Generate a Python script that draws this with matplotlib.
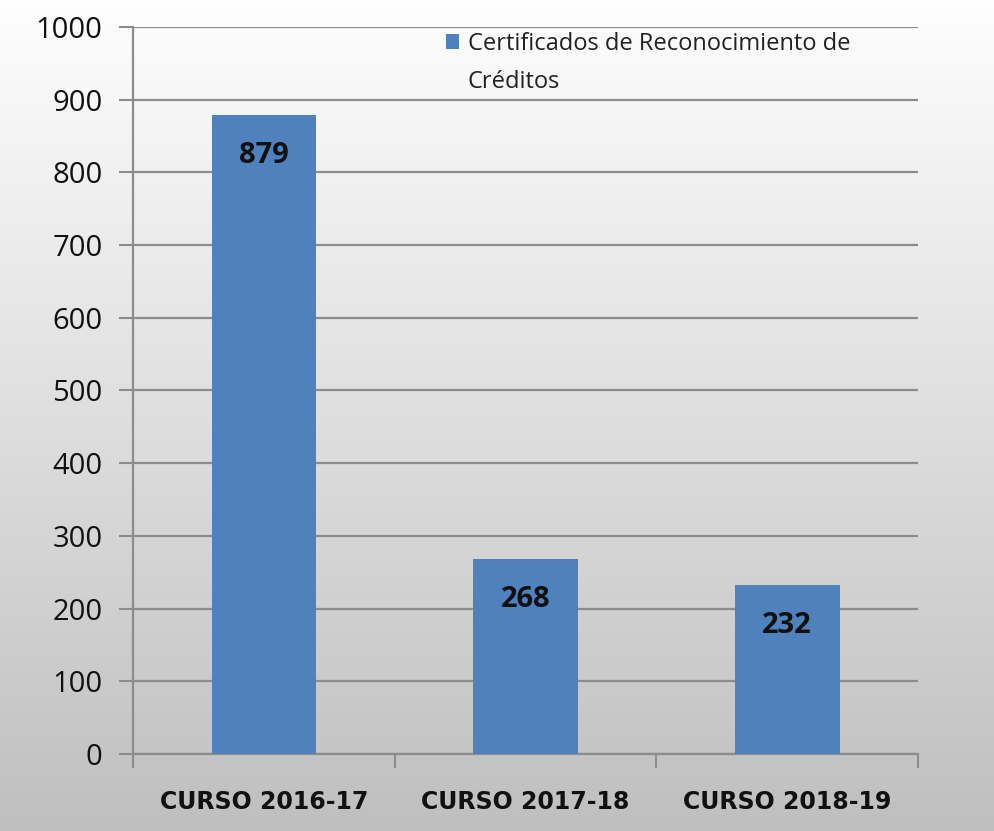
import matplotlib.pyplot as plt
import numpy as np
from matplotlib.patches import Rectangle
from matplotlib.legend_handler import HandlerPatch
from matplotlib.colors import LinearSegmentedColormap

cursos = ['CURSO 2016-17', 'CURSO 2017-18', 'CURSO 2018-19']
certificados = [879, 268, 232]
yticks = [0, 100, 200, 300, 400, 500, 600, 700, 800, 900, 1000]
serie = 'Certificados de Reconocimiento de\nCréditos'

plt.rcParams['font.family'] = ['Open Sans', 'DejaVu Sans']

fig = plt.figure(figsize=(9.95, 8.31), dpi=100)

# fondo con degradado vertical (blanco arriba, gris abajo)
bg = fig.add_axes([0, 0, 1, 1], zorder=0)
grad = np.linspace(0, 1, 256).reshape(-1, 1)
bg.imshow(grad, cmap=LinearSegmentedColormap.from_list('g', ['#fefefe', '#bfbfbf']),
          aspect='auto', extent=[0, 1, 0, 1], origin='upper')
bg.axis('off')

ax = fig.add_axes([0.1337, 0.0927, 0.789, 0.8748], zorder=1)
ax.set_facecolor('none')

x = np.arange(len(cursos))
bars = ax.bar(x, certificados, width=0.4, color='#4f81bd', label=serie, zorder=3)
for b, v in zip(bars, certificados):
    ax.annotate(str(v), (b.get_x() + b.get_width() / 2, v), xytext=(0, -29),
                textcoords='offset points', ha='center', va='center',
                fontsize=21, fontweight='bold', color='#111111', zorder=4)

ax.set_xlim(-0.5, 2.5)
ax.set_ylim(0, 1000)
ax.set_yticks(yticks)
ax.yaxis.grid(True, color='#8c8c8c', linewidth=1.6, zorder=0)
ax.set_axisbelow(True)

ax.set_xticks(x)
ax.set_xticklabels(cursos, fontsize=17, fontweight='bold', family=['DejaVu Sans'])
ax.set_xticks([-0.5, 0.5, 1.5, 2.5], minor=True)
ax.tick_params(axis='x', which='major', length=0, pad=26, colors='#111111')
ax.tick_params(axis='x', which='minor', length=10, width=1.5, color='#8c8c8c', direction='out')
ax.tick_params(axis='y', length=10, width=1.5, color='#8c8c8c', labelsize=21, pad=12, labelcolor='#111111')

for s in ['top', 'right']:
    ax.spines[s].set_visible(False)
for s in ['left', 'bottom']:
    ax.spines[s].set_color('#8c8c8c')
    ax.spines[s].set_linewidth(1.6)


# cuadrado de la leyenda alineado con la primera linea
def cuadrado(legend, orig_handle, xdescent, ydescent, width, height, fontsize):
    return Rectangle((-xdescent, -ydescent + 0.95 * fontsize), width, height)


leg = ax.legend(handles=[bars.patches[0]], labels=[serie],
                loc='upper left', bbox_to_anchor=(0.381, 1.012), frameon=False, fontsize=17,
                handlelength=0.55, handleheight=0.55, handletextpad=0.35, borderaxespad=0.2,
                handler_map={Rectangle: HandlerPatch(patch_func=cuadrado)})
for t in leg.get_texts():
    t.set_color('#222222')
    t.set_linespacing(1.75)

fig.savefig('out.png', dpi=100)
